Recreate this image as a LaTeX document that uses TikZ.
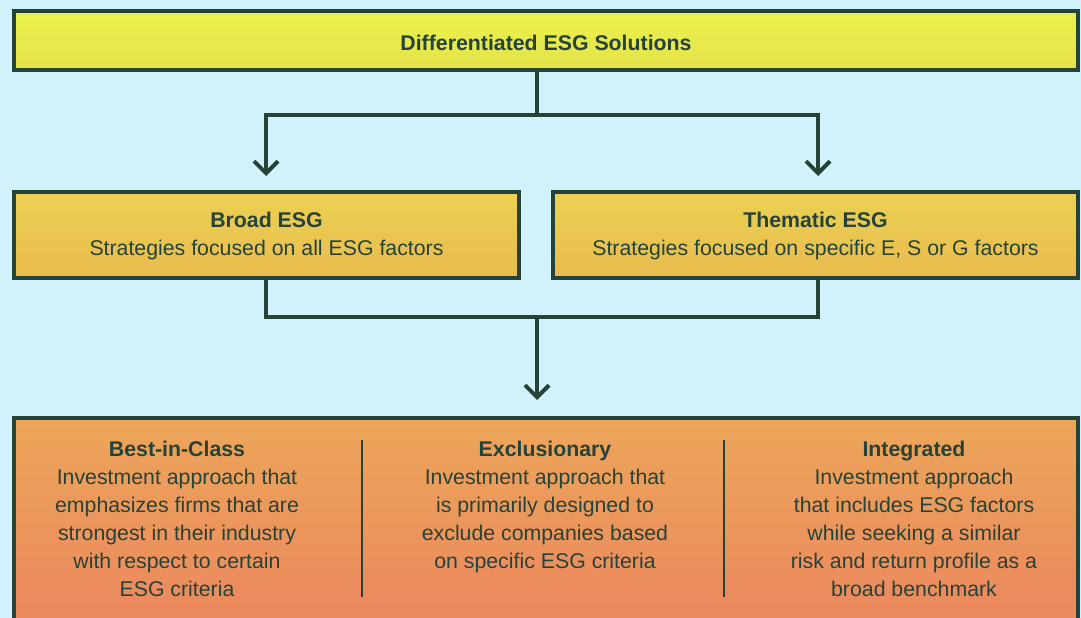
\documentclass[tikz,border=0pt]{standalone}
\usepackage{fontspec}
\setmainfont{Liberation Sans}
\usetikzlibrary{arrows.meta}
\definecolor{bgc}{HTML}{D2F2FB}
\definecolor{ink}{HTML}{26433A}
\definecolor{ytop}{HTML}{E9F24E}
\definecolor{ybot}{HTML}{E5E24A}
\definecolor{mtop}{HTML}{EBD152}
\definecolor{mbot}{HTML}{E9BB50}
\definecolor{otop}{HTML}{ECA65A}
\definecolor{obot}{HTML}{EC825F}
\tikzset{
  boxstyle/.style={draw=ink, line width=4pt, rectangle, inner sep=0pt},
  conn/.style={draw=ink, line width=4pt},
  arr/.style={-{Straight Barb[length=12pt,width=24pt]}},
  txt/.style={text=ink, font=\fontsize{21.3}{28}\selectfont, align=center, inner sep=0pt},
  divider/.style={draw=ink, line width=1.5pt}
}
\begin{document}
\begin{tikzpicture}[x=1pt,y=-1pt]
\useasboundingbox (0,0) rectangle (1081,618);
\clip (0,0) rectangle (1081,618);
\fill[bgc] (0,0) rectangle (1081,618);

\node[boxstyle, top color=ytop, bottom color=ybot, minimum width=1064pt, minimum height=59pt] (top) at (546,40.5) {};
\node[txt] (toptxt) at (546,43) {\textbf{Differentiated ESG Solutions}};

\node[boxstyle, top color=mtop, bottom color=mbot, minimum width=505pt, minimum height=86pt] (broad) at (266.5,235) {};
\node[txt] (broadtxt) at (266.5,236) {\textbf{Broad ESG}\\Strategies focused on all ESG factors};

\node[boxstyle, top color=mtop, bottom color=mbot, minimum width=525pt, minimum height=86pt] (them) at (815.5,235) {};
\node[txt] (themtxt) at (815.5,236) {\textbf{Thematic ESG}\\Strategies focused on specific E, S or G factors};

\node[boxstyle, top color=otop, bottom color=obot, minimum width=1064pt, minimum height=242pt] (bot) at (546,539) {};

\coordinate (cL) at (266,0);
\coordinate (cR) at (818,0);
\coordinate (j1) at (537,115);
\coordinate (j2) at (537,317);

\draw[conn] (top.south -| j1) -- (j1);
\draw[conn, arr, shorten >=14pt] (j1) -| (cL |- broad.north);
\draw[conn, arr, shorten >=14pt] (j1) -| (cR |- them.north);
\draw[conn] (cL |- broad.south) |- (cR |- j2) -- (cR |- them.south);
\draw[conn, arr, shorten >=16pt] (j2) -- (j2 |- bot.north);

\draw[divider] (362,440) -- (362,597);
\draw[divider] (724,440) -- (724,597);

\node[txt, anchor=north] (c1) at (177,441) {\textbf{Best-in-Class}\\Investment approach that\\emphasizes firms that are\\strongest in their industry\\with respect to certain\\ESG criteria};
\node[txt, anchor=north] (c2) at (545,441) {\textbf{Exclusionary}\\Investment approach that\\is primarily designed to\\exclude companies based\\on specific ESG criteria};
\node[txt, anchor=north] (c3) at (914,441) {\textbf{Integrated}\\Investment approach\\that includes ESG factors\\while seeking a similar\\risk and return profile as a\\broad benchmark};
\end{tikzpicture}
\end{document}
